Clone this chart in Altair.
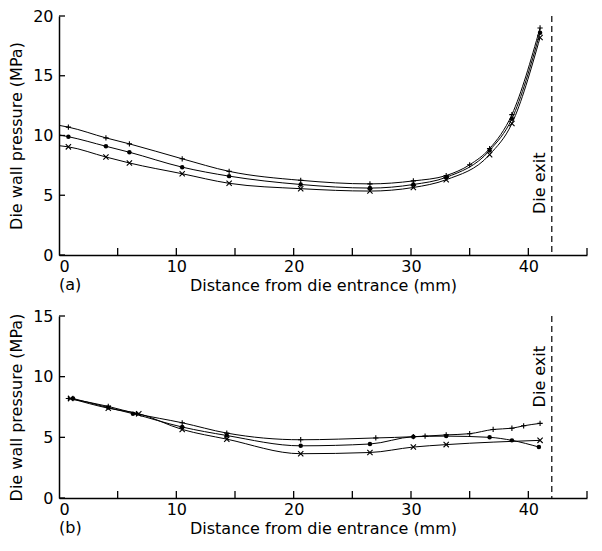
import altair as alt
import pandas as pd

# ---------------- data ----------------
series_names = ["plus", "dot", "cross"]

# Panel (a) - measured points
a_plus_x = [0.8, 4.0, 6.0, 10.5, 14.5, 20.6, 26.5, 30.2, 33.0, 35.0, 36.7, 38.6, 41.0]
a_plus_y = [10.7, 9.8, 9.3, 8.05, 7.0, 6.25, 5.95, 6.2, 6.65, 7.55, 8.9, 11.75, 19.0]
a_dot_x = [0.8, 4.0, 6.0, 10.5, 14.5, 20.6, 26.5, 30.2, 33.0, 36.7, 38.6, 41.0]
a_dot_y = [9.9, 9.1, 8.6, 7.35, 6.6, 5.9, 5.6, 5.9, 6.5, 8.75, 11.4, 18.6]
a_cross_x = [0.8, 4.0, 6.0, 10.5, 14.5, 20.6, 26.5, 30.2, 33.0, 36.7, 38.6, 41.0]
a_cross_y = [9.05, 8.2, 7.7, 6.8, 6.0, 5.55, 5.35, 5.65, 6.3, 8.4, 11.0, 18.2]
# Panel (a) - where the fitted curves meet the pressure axis (x = 0)
a_curve_start = [10.85, 10.05, 9.15]

# Panel (b)
b_plus_x = [0.8, 4.2, 6.6, 10.5, 14.3, 20.6, 27.0, 30.2, 31.2, 33.0, 35.0, 37.0, 38.6, 39.6, 41.0]
b_plus_y = [8.2, 7.55, 6.95, 6.2, 5.35, 4.8, 4.95, 5.05, 5.1, 5.2, 5.3, 5.65, 5.75, 5.95, 6.15]
b_dot_x = [1.2, 4.2, 6.3, 10.5, 14.3, 20.6, 26.5, 30.2, 33.0, 36.7, 38.6, 40.9]
b_dot_y = [8.2, 7.45, 6.95, 5.85, 5.15, 4.3, 4.45, 5.05, 5.1, 5.0, 4.75, 4.2]
b_cross_x = [1.0, 4.2, 6.8, 10.5, 14.3, 20.6, 26.5, 30.2, 33.0, 41.0]
b_cross_y = [8.2, 7.4, 6.95, 5.65, 4.85, 3.65, 3.75, 4.2, 4.4, 4.75]

x_ticks = [5, 10, 15, 20, 25, 30, 35, 40, 45]
x_labels = [0, 10, 20, 30, 40]
a_y_ticks = [0, 5, 10, 15, 20]
b_y_ticks = [0, 5, 10, 15]
die_exit = 42
a_exit_label_y = 6.0
b_exit_label_y = 10.0

x_title = "Distance from die entrance (mm)"
y_title = "Die wall pressure (MPa)"

FONT = "DejaVu Sans"
W = 528


def make_df(xs_list, ys_list, starts=None):
    rows = []
    for k, (name, xs, ys) in enumerate(zip(series_names, xs_list, ys_list)):
        if starts is not None:
            rows.append({"series": name, "x": 0.0, "y": starts[k], "order": -1, "mark": False})
        for i, (x, y) in enumerate(zip(xs, ys)):
            rows.append({"series": name, "x": x, "y": y, "order": i, "mark": True})
    return pd.DataFrame(rows)


shape_scale = alt.Scale(
    domain=series_names,
    range=["M-1,0L1,0M0,-1L0,1", "circle", "M-1,-1L1,1M-1,1L1,-1"],
)


def panel(df, ymax, yticks, H, tag, exit_y):
    xs = alt.Scale(domain=[0, 45], nice=False)
    ys = alt.Scale(domain=[0, ymax], nice=False)
    base = alt.Chart(df)
    lines = base.mark_line(color="black", strokeWidth=1, interpolate="monotone").encode(
        x=alt.X("x:Q", scale=xs,
                axis=alt.Axis(values=x_labels, title=x_title, format="d")),
        y=alt.Y("y:Q", scale=ys,
                axis=alt.Axis(values=yticks, title=y_title, format="d")),
        detail="series:N",
        order="order:Q",
    )
    pts = base.transform_filter(
        (alt.datum.series != "dot") & alt.datum.mark).mark_point(
        color="black", filled=False, strokeWidth=1.1, size=28, opacity=1).encode(
        x=alt.X("x:Q", scale=xs),
        y=alt.Y("y:Q", scale=ys),
        shape=alt.Shape("series:N", scale=shape_scale, legend=None),
    )
    dots = base.transform_filter(
        (alt.datum.series == "dot") & alt.datum.mark).mark_circle(
        color="black", size=20, opacity=1).encode(
        x=alt.X("x:Q", scale=xs), y=alt.Y("y:Q", scale=ys))
    xt = alt.Chart(pd.DataFrame({"t": x_ticks})).mark_rule(color="black", strokeWidth=1.3).encode(
        x=alt.X("t:Q", scale=xs), y=alt.value(H), y2=alt.value(H - 7))
    yt = alt.Chart(pd.DataFrame({"t": yticks})).mark_rule(color="black", strokeWidth=1.3).encode(
        y=alt.Y("t:Q", scale=ys), x=alt.value(0), x2=alt.value(6))
    exit_line = alt.Chart(pd.DataFrame({"e": [die_exit]})).mark_rule(
        color="black", strokeWidth=1.2, strokeDash=[6, 4]).encode(
        x=alt.X("e:Q", scale=xs), y=alt.value(0), y2=alt.value(H))
    exit_text = alt.Chart(pd.DataFrame({"e": [die_exit], "y": [exit_y], "t": ["Die exit"]})).mark_text(
        angle=270, align="center", baseline="bottom", dy=-4, font=FONT, fontSize=16, color="black").encode(
        x=alt.X("e:Q", scale=xs), y=alt.Y("y:Q", scale=ys), text="t:N")
    tag_text = alt.Chart(pd.DataFrame({"t": [tag]})).mark_text(
        align="left", baseline="middle", font=FONT, fontSize=16, color="black").encode(
        x=alt.value(0), y=alt.value(H + 30), text="t:N")
    return alt.layer(lines, pts, dots, xt, yt, exit_line, exit_text, tag_text).properties(
        width=W, height=H)


top = panel(make_df([a_plus_x, a_dot_x, a_cross_x], [a_plus_y, a_dot_y, a_cross_y], a_curve_start),
            20, a_y_ticks, 239, "(a)", a_exit_label_y)
bottom = panel(make_df([b_plus_x, b_dot_x, b_cross_x], [b_plus_y, b_dot_y, b_cross_y]),
               15, b_y_ticks, 182, "(b)", b_exit_label_y)

chart = alt.vconcat(top, bottom, spacing=15).properties(
    padding={"left": 0, "top": 0, "right": 0, "bottom": 0}
).configure_view(stroke=None).configure_axis(
    grid=False, domain=True, domainColor="black", domainWidth=1.5, domainOpacity=1,
    ticks=False, tickSize=0,
    labelFont=FONT, labelFontSize=16, labelColor="black", labelPadding=3,
    titleFont=FONT, titleFontSize=16, titleFontWeight="normal", titleColor="black",
    titlePadding=3,
).configure_axisY(labelPadding=6, titlePadding=8)

chart.save("out.html", embed_options={"renderer": "svg", "actions": False})
